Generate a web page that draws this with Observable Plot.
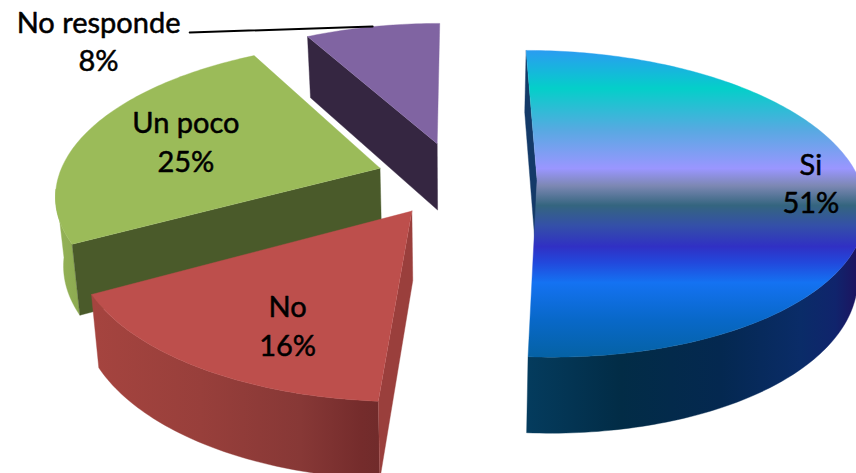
<!DOCTYPE html>
<html>
<head>
<meta charset="utf-8">
<script src="https://cdn.jsdelivr.net/npm/d3@7"></script>
<script src="https://cdn.jsdelivr.net/npm/@observablehq/plot@0.6"></script>
<style>
html,body{margin:0;padding:0;background:#fff}
svg{display:block}
</style>
</head>
<body>
<div id="chart"></div>
<script>
// Data
const categories = ["Si", "No", "Un poco", "No responde"];
const shares = [51, 16, 25, 8];

// Camera of the 3-D pie (a pinhole view of the pie's plane)
const cam = {x0: 456, y0: 178, a: 322, b: 149.2, k: 0.157, explode: 0.25, depth: 68, xv: 456, converge: 0.98};
const W = 856, H = 473;

// Styling, in the order of the categories
const topFill = ["url(#siTop)", "#bd4f4c", "#9bbb59", "#8064a2"];
const outerFill = ["url(#siWall)", "url(#noWall)", "url(#pocoWall)", "#5b4674"];
const sideFill = ["#143a68", "#9a3f3c", "#4a5a2a", "#352641"];
// Label placement in the pie's plane: radius from the slice's apex and angle from its mid line
const labelPlace = [
  {r: 0.845, turn: 0},
  {r: 0.72, turn: -6},
  {r: 0.66, turn: 0},
  {r: 1.49, turn: -41.7}
];
const leaderPlane = [{u: -0.979, v: 1.156}, {u: -0.31, v: 1.213}];
// Only this stretch of the rim faces the viewer (degrees clockwise from the back)
const rimFrom = 98, rimTo = 262;

const rad = d => d * Math.PI / 180;
const project = (u, v) => {
  const w = 1 + cam.k * v;
  return {x: cam.x0 + cam.a * u / w, y: cam.y0 - cam.b * v / w, w};
};
const drop = p => ({
  x: cam.xv + (p.x - cam.xv) * cam.converge,
  y: p.y + cam.depth / Math.pow(p.w, 0.65)
});

const total = d3.sum(shares);
let running = 0;
const slices = categories.map((name, i) => {
  const a0 = running / total * 360;
  running += shares[i];
  const a1 = running / total * 360;
  const mid = (a0 + a1) / 2;
  const ou = cam.explode * Math.sin(rad(mid));
  const ov = cam.explode * Math.cos(rad(mid));
  const at = (a, r = 1) => project(ou + r * Math.sin(rad(a)), ov + r * Math.cos(rad(a)));
  const sweep = (from, to) => {
    if (to <= from) return [];
    const n = Math.ceil(to - from);
    return d3.range(n + 1).map(j => at(from + (to - from) * j / n));
  };
  const arc = sweep(a0, a1);
  const rim = sweep(Math.max(a0, rimFrom), Math.min(a1, rimTo));
  const apex = project(ou, ov);
  const place = labelPlace[i];
  return {name, share: shares[i], i, arc, rim, apex,
          label: at(mid + place.turn, place.r)};
});

const topFaces = slices.map(s => [s.apex, ...s.arc, s.apex]);
const outerWalls = slices.map(s => [...s.rim, ...s.rim.map(drop).reverse()]);
const sideWalls = slices.map(s => {
  const first = s.arc[0];
  return [first, drop(first), drop(s.apex), s.apex];
});

const gradient = (id, horizontal, from, to, stops) => {
  const g = d3.create("svg:linearGradient").attr("id", id)
    .attr("gradientUnits", "userSpaceOnUse")
    .attr("x1", horizontal ? from : 0).attr("x2", horizontal ? to : 0)
    .attr("y1", horizontal ? 0 : from).attr("y2", horizontal ? 0 : to);
  stops.forEach(([pos, c]) => g.append("stop").attr("offset", (pos - from) / (to - from)).attr("stop-color", c));
  return g.node();
};
const defsMark = () => {
  const d = d3.create("svg:defs");
  [
    gradient("siTop", false, 49, 355, [
      [49, "#2b9bf2"], [88, "#04cfc9"], [130, "#58a9e2"], [168, "#9a96ff"],
      [185, "#7d88b4"], [205, "#34657f"], [225, "#3450a8"], [246, "#3030c4"],
      [262, "#2248dc"], [282, "#1472f2"], [320, "#0868c8"], [355, "#0562a6"]]),
    gradient("siWall", true, 524, 860, [
      [524, "#043c5e"], [620, "#022c46"], [720, "#042850"], [800, "#0a2c68"],
      [835, "#10246c"], [856, "#1c1460"]]),
    gradient("noWall", true, 93, 381, [
      [93, "#a5443f"], [200, "#983f3b"], [300, "#873836"], [360, "#752c2c"], [381, "#702b2b"]]),
    gradient("pocoWall", true, 56, 100, [[56, "#94b256"], [100, "#87a44d"]])
  ].forEach(n => d.node().appendChild(n));
  return d.node();
};

const face = (rows, fill) => Plot.line(rows, {x: "x", y: "y", fill, stroke: fill, strokeWidth: 0.4, curve: "linear"});

// Painter's order: purple, green, red, blue
const order = [3, 2, 1, 0];
const marks = [defsMark];
order.forEach(i => {
  if (outerWalls[i].length) marks.push(face(outerWalls[i], outerFill[i]));
  marks.push(face(sideWalls[i], sideFill[i]));
  marks.push(face(topFaces[i], topFill[i]));
});
marks.push(Plot.line(leaderPlane.map(p => project(p.u, p.v)), {x: "x", y: "y", stroke: "#000", strokeWidth: 2}));
marks.push(Plot.text(slices, {
  x: d => d.label.x,
  y: d => d.label.y,
  dy: -2,
  text: d => `${d.name}\n${d.share}%`,
  fontSize: 29,
  lineHeight: 1.33,
  fontFamily: "Lato",
  fontWeight: 400,
  fill: "#000",
  stroke: "#000",
  strokeWidth: 0.5,
  textAnchor: "middle"
}));

const chart = Plot.plot({
  width: W, height: H,
  marginTop: 0, marginRight: 0, marginBottom: 0, marginLeft: 0,
  x: {domain: [0, W], range: [0, W], axis: null},
  y: {domain: [0, H], range: [0, H], axis: null},
  style: {background: "#fff"},
  marks
});
document.getElementById("chart").appendChild(chart);
</script>
</body>
</html>
